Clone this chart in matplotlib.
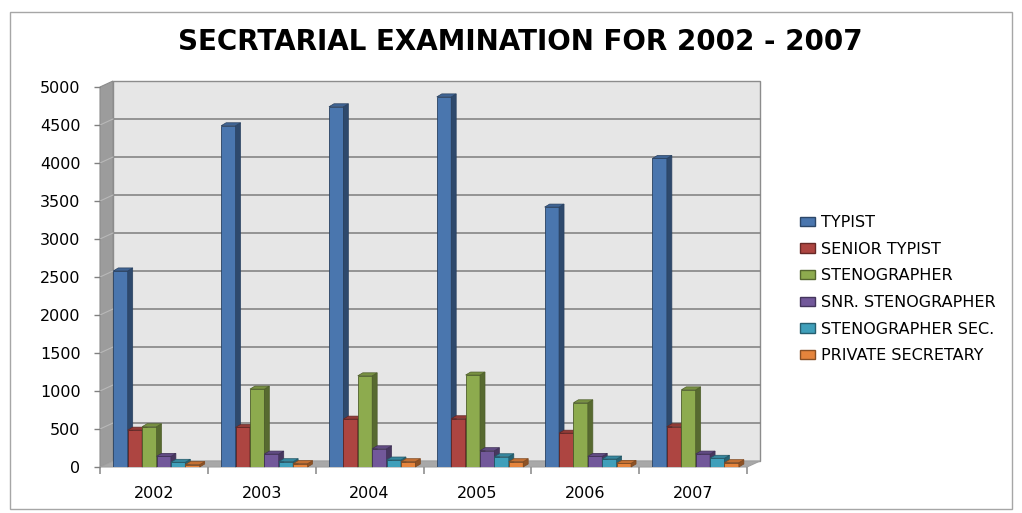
import numpy as np
import matplotlib
matplotlib.use('Agg')
from matplotlib import pyplot as plt
from matplotlib.patches import Polygon, Rectangle, Patch
from matplotlib import colors as mcolors

years = ['2002', '2003', '2004', '2005', '2006', '2007']
series = ['TYPIST', 'SENIOR TYPIST', 'STENOGRAPHER', 'SNR. STENOGRAPHER',
          'STENOGRAPHER SEC.', 'PRIVATE SECRETARY']
typist = [2580, 4490, 4740, 4870, 3420, 4060]
senior_typist = [485, 520, 630, 635, 445, 530]
stenographer = [530, 1025, 1200, 1210, 845, 1015]
snr_stenographer = [140, 170, 240, 215, 140, 170]
steno_sec = [62, 70, 92, 135, 105, 115]
private_sec = [32, 44, 70, 70, 48, 57]
yticks = list(range(0, 5001, 500))

values = [typist, senior_typist, stenographer, snr_stenographer, steno_sec, private_sec]
base_colors = ['#4a76ae', '#ad4541', '#8dab4e', '#72589a', '#3f9fba', '#e5843c']

W, H = 1022, 513
fig = plt.figure(figsize=(W / 100., H / 100.), dpi=100)

# front plane of the 3d box, in pixels
x0, x1 = 100, 747
y0, y1 = 467, 87
ax = fig.add_axes([x0 / W, (H - y0) / H, (x1 - x0) / W, (y0 - y1) / H])
ax.set_xlim(-0.5, 5.5)
ax.set_ylim(0, 5000)
for s in ax.spines.values():
    s.set_visible(False)
ax.patch.set_visible(False)

upx = 6.0 / (x1 - x0)        # data units per pixel in x
upy = 5000.0 / (y0 - y1)     # data units per pixel in y
dx, dy = 13 * upx, 6 * upy   # depth of the box
bdx, bdy = 5 * upx, 3 * upy  # depth of a bar

# walls and floor
back = Rectangle((-0.5 + dx, dy), 6, 5000, facecolor='#e6e6e6', edgecolor='#8c8c8c',
                 lw=1.0, zorder=0, clip_on=False)
ax.add_patch(back)
side = Polygon([(-0.5, 0), (-0.5 + dx, dy), (-0.5 + dx, 5000 + dy), (-0.5, 5000)],
               closed=True, facecolor='#9c9c9c', edgecolor='#8c8c8c', lw=0.8, zorder=0.5, clip_on=False)
ax.add_patch(side)
floor = Polygon([(-0.5, 0), (5.5, 0), (5.5 + dx, dy), (-0.5 + dx, dy)],
                closed=True, facecolor='#a8a8a8', edgecolor='#a0a0a0', lw=0.8, zorder=0.6, clip_on=False)
ax.add_patch(floor)
for yv in yticks[1:-1]:
    ax.plot([-0.5 + dx, 5.5 + dx], [yv + dy, yv + dy], color='#858585', lw=1.2, zorder=0.3, clip_on=False)
    ax.plot([-0.5, -0.5 + dx], [yv, yv + dy], color='#b8b8b8', lw=0.8, zorder=0.7, clip_on=False)

# bars
bw = 14.4 * upx
start = -0.5 + 13.3 * upx
z = 1
for i in range(len(years)):
    for k in range(len(series)):
        v = values[k][i]
        c = np.array(mcolors.to_rgb(base_colors[k]))
        front = c
        sidec = c * 0.62
        topc = c * 0.85
        edge = c * 0.55
        xl = i + start + k * bw
        xr = xl + bw
        ax.bar(xl, v, bw, align='edge', color=front, edgecolor=edge, lw=0.6, zorder=z)
        ax.add_patch(Polygon([(xr, 0), (xr + bdx, bdy), (xr + bdx, v + bdy), (xr, v)], closed=True,
                             facecolor=sidec, edgecolor=edge, lw=0.5, zorder=z, clip_on=False))
        ax.add_patch(Polygon([(xl, v), (xr, v), (xr + bdx, v + bdy), (xl + bdx, v + bdy)], closed=True,
                             facecolor=topc, edgecolor=edge, lw=0.5, zorder=z, clip_on=False))
        z += 1

# axes ticks
ax.set_yticks(yticks)
ax.set_yticklabels([str(t) for t in yticks], fontsize=11.5, color='#000000')
ax.tick_params(axis='y', length=4, width=1, color='#808080', pad=10)
ax.set_xticks(np.arange(-0.5, 6, 1))
ax.set_xticklabels([])
ax.tick_params(axis='x', which='major', length=5, width=1.2, color='#909090')
ax.set_xticks(np.arange(6), minor=True)
ax.set_xticklabels(years, minor=True, fontsize=11.5)
ax.tick_params(axis='x', which='minor', length=0, pad=14)

# title
fig.text(520 / W, 1 - 42 / H, 'SECRTARIAL EXAMINATION FOR 2002 - 2007', ha='center', va='center',
         fontsize=20, fontweight='bold', color='#000000')

# legend
handles = [Patch(facecolor=base_colors[k], edgecolor=np.array(mcolors.to_rgb(base_colors[k])) * 0.6, lw=1)
           for k in range(len(series))]
fig.legend(handles, series, loc='upper left', bbox_to_anchor=(800 / W, 1 - 215 / H), frameon=False,
           fontsize=11.5, handlelength=0.94, handleheight=0.5, labelspacing=0.73, handletextpad=0.35,
           borderaxespad=0, borderpad=0)

# chart border
fig.patches.append(Rectangle((10 / W, 4 / H), 1002 / W, 497 / H, transform=fig.transFigure,
                             fill=False, edgecolor='#a6a6a6', lw=1.0))

plt.savefig('out.png', dpi=100)
